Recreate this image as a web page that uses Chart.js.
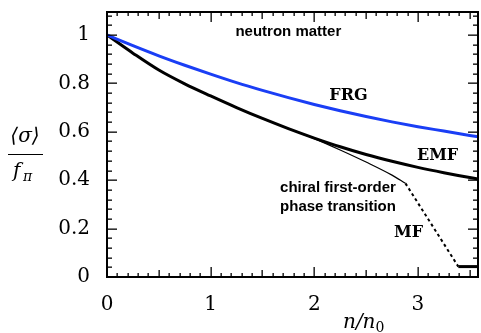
<!DOCTYPE html>
<html>
<head>
<meta charset="utf-8">
<script src="https://cdn.jsdelivr.net/npm/chart.js@4/dist/chart.umd.min.js"></script>
<style>
  html, body { margin: 0; padding: 0; background: #fff; }
  #wrap { width: 481px; height: 333px; }
</style>
</head>
<body>
<div id="wrap"><canvas id="chart" width="481" height="333"></canvas></div>
<script>
// density n/n0 and the order parameter <sigma>/f_pi
const density = [0, 0.25, 0.5, 0.75, 1.0, 1.25, 1.5, 1.75, 2.0, 2.25, 2.5, 2.75, 3.0, 3.25, 3.5, 3.6];
const frg = [1.0, 0.956, 0.914, 0.875, 0.838, 0.803, 0.771, 0.741, 0.713, 0.687, 0.663, 0.641, 0.621, 0.603, 0.585, 0.578];
const emf = [1.0, 0.925, 0.855, 0.798, 0.748, 0.700, 0.655, 0.613, 0.574, 0.538, 0.506, 0.478, 0.453, 0.431, 0.411, 0.404];

// mean-field curve: follows EMF, then first-order jump
const mfDensity = [0, 0.25, 0.5, 0.75, 1.0, 1.25, 1.5, 1.75, 2.0, 2.25, 2.5, 2.75, 2.88];
const mf = [1.0, 0.925, 0.855, 0.798, 0.748, 0.700, 0.655, 0.613, 0.572, 0.525, 0.475, 0.421, 0.387];
const mfJumpX = [2.88, 3.39];
const mfJumpY = [0.387, 0.043];
const mfHighX = [3.39, 3.6];
const mfHighY = [0.043, 0.043];

const xTicks = [0, 1, 2, 3];
const yTicks = [0, 0.2, 0.4, 0.6, 0.8, 1];
const X_MAX = 3.58;
const Y_MAX = 1.095;

const pts = (xs, ys) => xs.map((v, i) => ({ x: v, y: ys[i] }));

Chart.defaults.color = "#000";
Chart.defaults.font.family = '"DejaVu Serif", serif';

// inward ticks on all four sides plus the frame
const frameTicks = {
  id: "frameTicks",
  afterDraw(chart) {
    const { ctx, chartArea: a, scales } = chart;
    const sx = scales.x, sy = scales.y;
    ctx.save();
    ctx.fillStyle = "#000";
    for (let i = 0; i <= 40; i++) {
      const v = i / 10;
      if (v > X_MAX) break;
      const px = Math.round(sx.getPixelForValue(v)) - 0.5;
      const len = i % 10 === 0 ? 10 : i % 5 === 0 ? 7 : 4;
      ctx.fillRect(px, a.bottom - len, 1.3, len);
      ctx.fillRect(px, a.top, 1.3, len);
    }
    for (let i = 0; i * 0.04 <= Y_MAX; i++) {
      const py = Math.round(sy.getPixelForValue(i * 0.04)) - 0.5;
      const len = i % 5 === 0 ? 10 : 5;
      ctx.fillRect(a.left, py, len, 1.3);
      ctx.fillRect(a.right - len, py, len, 1.3);
    }
    ctx.strokeStyle = "#000";
    ctx.lineWidth = 2;
    ctx.strokeRect(a.left, a.top, a.right - a.left, a.bottom - a.top);
    ctx.restore();
  },
};

const labels = {
  id: "labels",
  afterDraw(chart) {
    const { ctx, scales } = chart;
    const at = (vx, vy) => [scales.x.getPixelForValue(vx), scales.y.getPixelForValue(vy)];
    ctx.save();
    ctx.fillStyle = "#000";
    ctx.strokeStyle = "#000";
    ctx.textBaseline = "middle";

    ctx.textAlign = "center";
    ctx.font = 'bold 15px "Liberation Sans", Arial, sans-serif';
    let [px, py] = at(1.75, 1.012);
    ctx.fillText("neutron matter", px, py);

    ctx.textAlign = "left";
    [px, py] = at(1.67, 0.368);
    ctx.fillText("chiral first-order", px, py);
    [px, py] = at(1.67, 0.289);
    ctx.fillText("phase transition", px, py);

    ctx.textAlign = "center";
    ctx.font = 'bold 16px "DejaVu Serif", serif';
    [px, py] = at(2.33, 0.748);
    ctx.fillText("FRG", px, py);
    [px, py] = at(3.19, 0.50);
    ctx.fillText("EMF", px, py);
    [px, py] = at(2.91, 0.182);
    ctx.fillText("MF", px, py);

    // y axis title as a fraction
    ctx.font = 'italic 20px "DejaVu Serif", serif';
    ctx.fillText("\u27E8\u03C3\u27E9", 25, 137);
    ctx.lineWidth = 1.2;
    ctx.beginPath();
    ctx.moveTo(8, 154.5); ctx.lineTo(43, 154.5);
    ctx.stroke();
    ctx.textAlign = "left";
    ctx.fillText("f", 13, 172);
    ctx.font = 'italic 14px "DejaVu Serif", serif';
    ctx.fillText("\u03C0", 23, 177);

    // x axis title
    ctx.font = 'italic 20px "DejaVu Serif", serif';
    ctx.fillText("n/n", 343, 323);
    const w = ctx.measureText("n/n").width;
    ctx.font = '14px "DejaVu Serif", serif';
    ctx.fillText("0", 343 + w, 328);
    ctx.restore();
  },
};

new Chart(document.getElementById("chart"), {
  type: "line",
  data: {
    datasets: [
      {
        label: "FRG",
        data: pts(density, frg),
        borderColor: "#1a3ef5",
        borderWidth: 3,
        pointRadius: 0,
        cubicInterpolationMode: "monotone",
      },
      {
        label: "MF",
        data: pts(mfDensity, mf),
        borderColor: "#000",
        borderWidth: 1.2,
        pointRadius: 0,
        cubicInterpolationMode: "monotone",
      },
      {
        label: "EMF",
        data: pts(density, emf),
        borderColor: "#000",
        borderWidth: 3,
        pointRadius: 0,
        cubicInterpolationMode: "monotone",
      },
      {
        label: "MF jump",
        data: pts(mfJumpX, mfJumpY),
        borderColor: "#000",
        borderWidth: 2,
        borderDash: [3, 3],
        pointRadius: 0,
      },
      {
        label: "MF restored",
        data: pts(mfHighX, mfHighY),
        borderColor: "#000",
        borderWidth: 3,
        pointRadius: 0,
      },
    ],
  },
  options: {
    responsive: false,
    animation: false,
    layout: { padding: { top: 12, right: 3, left: 0, bottom: 0 } },
    scales: {
      x: {
        type: "linear",
        min: 0,
        max: X_MAX,
        grid: { display: false, drawTicks: false },
        border: { display: false },
        afterFit: (s) => { s.height = 56; s.paddingLeft = 0; s.paddingRight = 0; },
        afterBuildTicks: (s) => { s.ticks = xTicks.map((v) => ({ value: v })); },
        ticks: { padding: 16, font: { size: 20 }, maxRotation: 0, callback: (v) => String(v) },
      },
      y: {
        type: "linear",
        min: 0,
        max: Y_MAX,
        grid: { display: false, drawTicks: false },
        border: { display: false },
        afterFit: (s) => { s.width = 107; s.paddingTop = 0; s.paddingBottom = 0; },
        afterBuildTicks: (s) => { s.ticks = yTicks.map((v) => ({ value: v })); },
        ticks: { padding: 17, font: { size: 20 }, callback: (v) => String(v) },
      },
    },
    plugins: { legend: { display: false }, tooltip: { enabled: false } },
  },
  plugins: [frameTicks, labels],
});
</script>
</body>
</html>
